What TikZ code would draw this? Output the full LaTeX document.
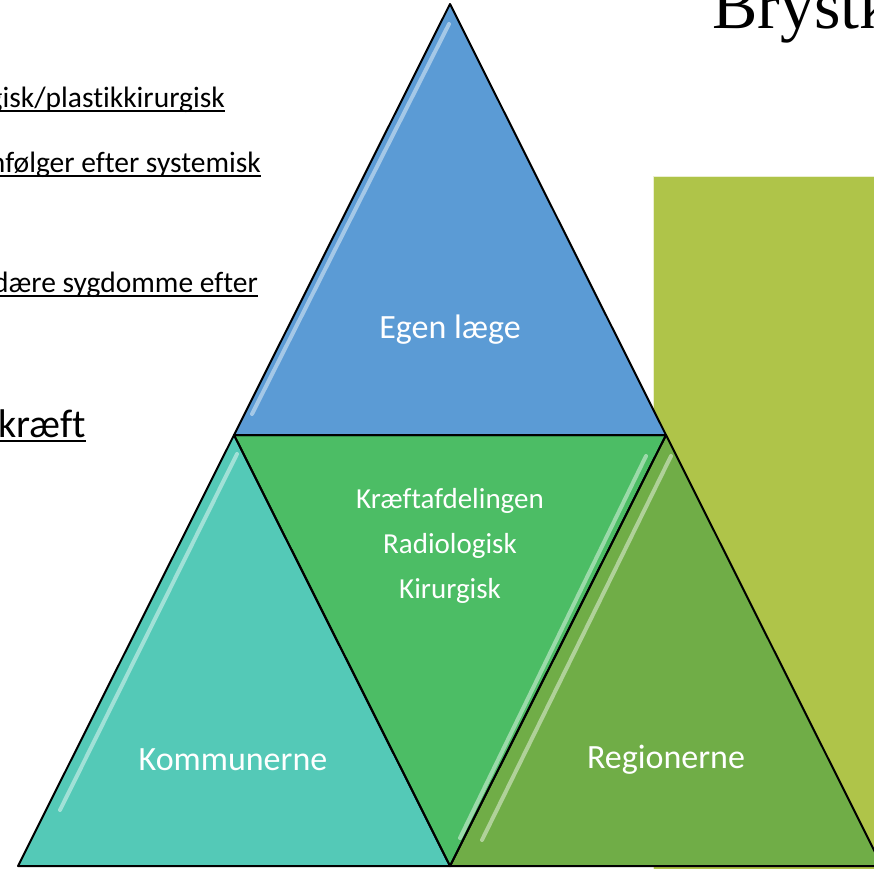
\documentclass[tikz,border=0pt]{standalone}
\usepackage{fontspec}
\setmainfont{Carlito}[Ligatures=NoCommon]
\newfontfamily\titlefont{Liberation Serif}
\definecolor{lage}{RGB}{91,155,213}
\definecolor{afdeling}{RGB}{76,189,101}
\definecolor{kommune}{RGB}{84,201,183}
\definecolor{region}{RGB}{112,173,71}
\definecolor{panel}{RGB}{175,196,73}
\newcommand\linjetekst[2][1.8pt]{\setbox0\hbox{#2}\rlap{\rule[-5pt]{\wd0}{#1}}\box0}
\tikzset{
  tri/.style={draw=black, line width=2pt, line join=round},
  shine/.style={white, line width=4pt, opacity=0.45, line cap=round},
  tlabel/.style={text=white, font=\fontsize{34}{40}\selectfont, inner sep=0pt},
  mlabel/.style={text=white, font=\fontsize{29}{45}\selectfont, align=center, inner sep=0pt},
  note/.style={anchor=base east, font=\fontsize{29.5}{34}\selectfont, inner sep=0pt},
}

\begin{document}
\begin{tikzpicture}[x=1pt,y=-1pt]
\useasboundingbox (0,0) rectangle (874,868);
\clip (0,0) rectangle (874,868);
\fill[white] (0,0) rectangle (874,868);
\draw[draw=white!75!panel, line width=1pt, fill=panel] (653,176) rectangle (900,900);

\coordinate (apex) at (450,4);
\coordinate (midL) at (234,435);
\coordinate (midR) at (666,435);
\coordinate (foot) at (450,866);
\coordinate (footL) at (18,866);
\coordinate (footR) at (882,866);

\fill[lage] (apex) -- (midL) -- (midR) -- cycle;
\fill[afdeling] (midL) -- (midR) -- (foot) -- cycle;
\fill[kommune] (midL) -- (footL) -- (foot) -- cycle;
\fill[region] (midR) -- (foot) -- (footR) -- cycle;

\draw[shine] (449,24) -- (252,414);
\draw[shine] (237,454) -- (60,810);
\draw[shine] (646,456) -- (460,838);
\draw[shine] (671,456) -- (482,840);

\draw[tri] (apex) -- (midL) -- (midR) -- cycle;
\draw[tri] (midL) -- (midR) -- (foot) -- cycle;
\draw[tri] (midL) -- (footL) -- (foot) -- cycle;
\draw[tri] (midR) -- (foot) -- (footR) -- cycle;

\node[tlabel] (egen) at (450,330) {Egen læge};
\node[mlabel] (afd) at (450,546) {Kræftafdelingen\\Radiologisk\\Kirurgisk};
\node[tlabel] (kommuner) at (233,760) {Kommunerne};
\node[tlabel] (regioner) at (666,760) {Regionerne};

\node[note] (n1) at (225,107) {\linjetekst{ogisk/plastikkirurgisk}};
\node[note] (n2) at (261,172) {\linjetekst{nfølger efter systemisk}};
\node[note] (n3) at (258,292) {\linjetekst{ndære sygdomme efter}};
\node[note, font=\fontsize{40}{46}\selectfont] (n4) at (86,437) {\linjetekst[2.2pt]{kræft}};

\node[anchor=base west, inner sep=0pt, font=\titlefont\fontsize{68}{80}\selectfont] (titel) at (712,28) {Brystkræft};
\end{tikzpicture}
\end{document}
